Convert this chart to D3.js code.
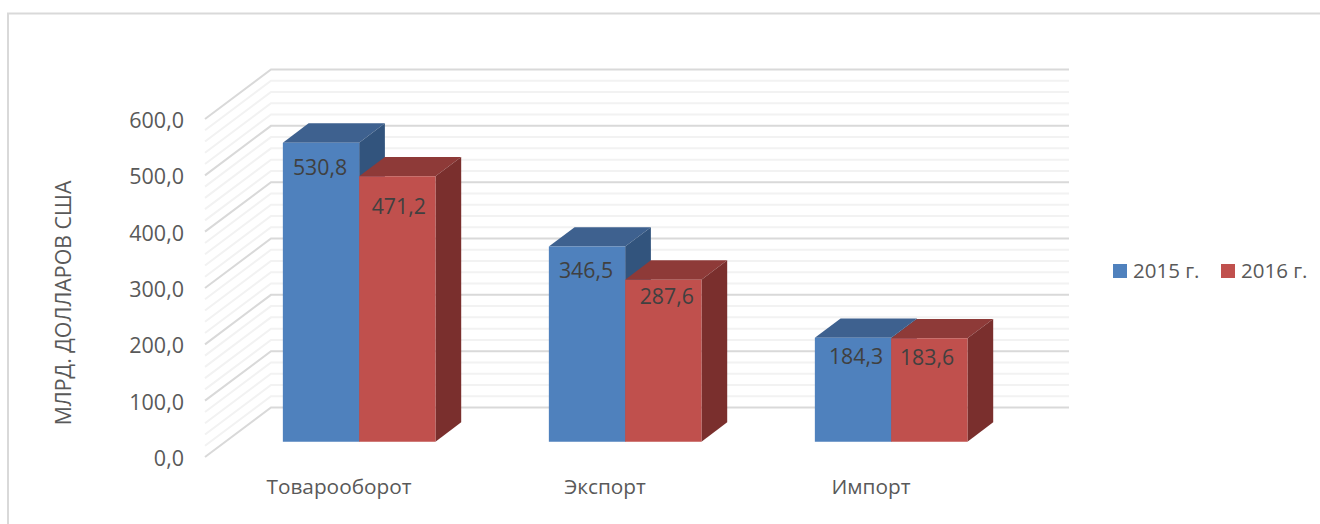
<!DOCTYPE html>
<html>
<head>
<meta charset="utf-8">
<script src="https://cdn.jsdelivr.net/npm/d3@7"></script>
<style>
  html, body { margin: 0; padding: 0; background: #fff; overflow: hidden; }
  text { font-family: "Open Sans", sans-serif; }
</style>
</head>
<body>
<div id="chart"></div>
<script>
var categories = ["Товарооборот", "Экспорт", "Импорт"];
var series_names = ["2015 г.", "2016 г."];
var values_2015 = [530.8, 346.5, 184.3];
var values_2016 = [471.2, 287.6, 183.6];
var y_ticks = [0, 100, 200, 300, 400, 500, 600];
var y_minor_ticks = d3.range(0, 601, 20);
var axis_title = "МЛРД. ДОЛЛАРОВ США";

var full_width = 1320, full_height = 524;

// back wall of the 3d box, the floor comes forward from it
var wall = {'left': 271, 'right': 1069, 'top': 69.5, 'bottom': 407.5};
var depth = {'x': -66, 'y': 49.5};
// bars stand between these two fractions of the floor depth (0 = back wall)
var bar_back = 0.30, bar_front = 0.69;
var bar_shift = 0.7;

// data labels don't sit at a fixed place on the bars, nudge per series and category
var label_dx = [[-1, -1, 3], [1.5, 3.5, -2.3]];
var label_dy = [[25, 24, 19], [30, 17, 19]];

var colors = [
  {'front': "#4f81bd", 'top': "#3e618f", 'side': "#32547d"},
  {'front': "#c0504d", 'top': "#8e3a38", 'side': "#7a2f2d"}
];

var svg = d3.select("#chart").append("svg")
  .attr("width", full_width)
  .attr("height", full_height)
  .style("display", "block");

var y = d3.scaleLinear().domain([0, 600]).range([wall.bottom, wall.top]);
var x = d3.scaleBand().domain(categories).range([wall.left, wall.right]);
var x_sub = d3.scaleBand().domain(series_names)
  .range([0, x.bandwidth()])
  .paddingInner(0)
  .paddingOuter(0.743);

// chart frame, only top and left are visible
svg.append("path")
  .attr("d", "M8,524V13.5H1320")
  .attr("fill", "none")
  .attr("stroke", "#d9d9d9")
  .attr("stroke-width", 2);

// project a point of the box to the screen, f = fraction of depth
function px(v, f) { return v + depth.x * f; }
function py(v, f) { return y(v) + depth.y * f; }

// gridlines on side wall and back wall
var grid = svg.append("g").attr("fill", "none").attr("stroke-width", 2);
y_minor_ticks.filter(function(d) { return y_ticks.indexOf(d) < 0; }).forEach(function(d) {
  grid.append("path")
    .attr("d", d3.line()([[px(wall.left, 1), py(d, 1)], [wall.left, y(d)], [wall.right, y(d)]]))
    .attr("stroke", "#f2f2f2");
});
y_ticks.forEach(function(d) {
  grid.append("path")
    .attr("d", d3.line()([[px(wall.left, 1), py(d, 1)], [wall.left, y(d)], [wall.right, y(d)]]))
    .attr("stroke", "#d9d9d9");
});

// bars
var all_values = [values_2015, values_2016];
var line = d3.line();
categories.forEach(function(cat, i) {
  series_names.forEach(function(name, s) {
    var v = all_values[s][i];
    var x0 = x(cat) + x_sub(name) + bar_shift, x1 = x0 + x_sub.bandwidth();
    var g = svg.append("g").attr("class", "bar");
    // top
    g.append("path")
      .attr("d", line([[px(x0, bar_front), py(v, bar_front)], [px(x0, bar_back), py(v, bar_back)],
                       [px(x1, bar_back), py(v, bar_back)], [px(x1, bar_front), py(v, bar_front)]]) + "Z")
      .attr("fill", colors[s].top);
    // side
    g.append("path")
      .attr("d", line([[px(x1, bar_front), py(v, bar_front)], [px(x1, bar_back), py(v, bar_back)],
                       [px(x1, bar_back), py(0, bar_back)], [px(x1, bar_front), py(0, bar_front)]]) + "Z")
      .attr("fill", colors[s].side);
    // front
    g.append("path")
      .attr("d", line([[px(x0, bar_front), py(v, bar_front)], [px(x1, bar_front), py(v, bar_front)],
                       [px(x1, bar_front), py(0, bar_front)], [px(x0, bar_front), py(0, bar_front)]]) + "Z")
      .attr("fill", colors[s].front);
  });
});

// data labels
var comma = d3.formatLocale({'decimal': ",", 'thousands': " ", 'grouping': [3], 'currency': ["", ""]}).format(".1f");
categories.forEach(function(cat, i) {
  series_names.forEach(function(name, s) {
    var v = all_values[s][i];
    svg.append("text")
      .attr("x", px(x(cat) + x_sub(name) + bar_shift + x_sub.bandwidth() / 2, bar_front) + label_dx[s][i])
      .attr("y", py(v, bar_front) + label_dy[s][i])
      .attr("dy", "0.35em")
      .attr("text-anchor", "middle")
      .attr("font-size", 21.3)
      .attr("fill", "#404040")
      .text(comma(v));
  });
});

// y axis sits on the front edge of the side wall
var y_axis = d3.axisLeft(y).tickValues(y_ticks).tickFormat(comma).tickSize(0).tickPadding(0);
var y_g = svg.append("g")
  .attr("transform", "translate(184," + (depth.y + 1.5) + ")")
  .call(y_axis);
y_g.select(".domain").remove();
y_g.selectAll("text").attr("font-size", 21.5).attr("fill", "#595959");

// x axis labels
var x_axis = d3.axisBottom(x).tickSize(0).tickPadding(0);
var x_g = svg.append("g")
  .attr("transform", "translate(-65,479)")
  .call(x_axis);
x_g.select(".domain").remove();
x_g.selectAll("text").attr("font-size", 20.8).attr("fill", "#595959");

svg.append("text")
  .attr("transform", "translate(64,303) rotate(-90)")
  .attr("dy", "0.35em")
  .attr("text-anchor", "middle")
  .attr("font-size", 21.3)
  .attr("fill", "#595959")
  .text(axis_title);

// legend
var legend_x = d3.scaleOrdinal().domain(series_names).range([1113, 1221]);
series_names.forEach(function(name, s) {
  svg.append("rect")
    .attr("x", legend_x(name)).attr("y", 264)
    .attr("width", 14).attr("height", 14)
    .attr("fill", colors[s].front);
  svg.append("text")
    .attr("x", legend_x(name) + 20).attr("y", 271)
    .attr("dy", "0.35em")
    .attr("font-size", 20.5)
    .attr("fill", "#595959")
    .text(name);
});
</script>
</body>
</html>
